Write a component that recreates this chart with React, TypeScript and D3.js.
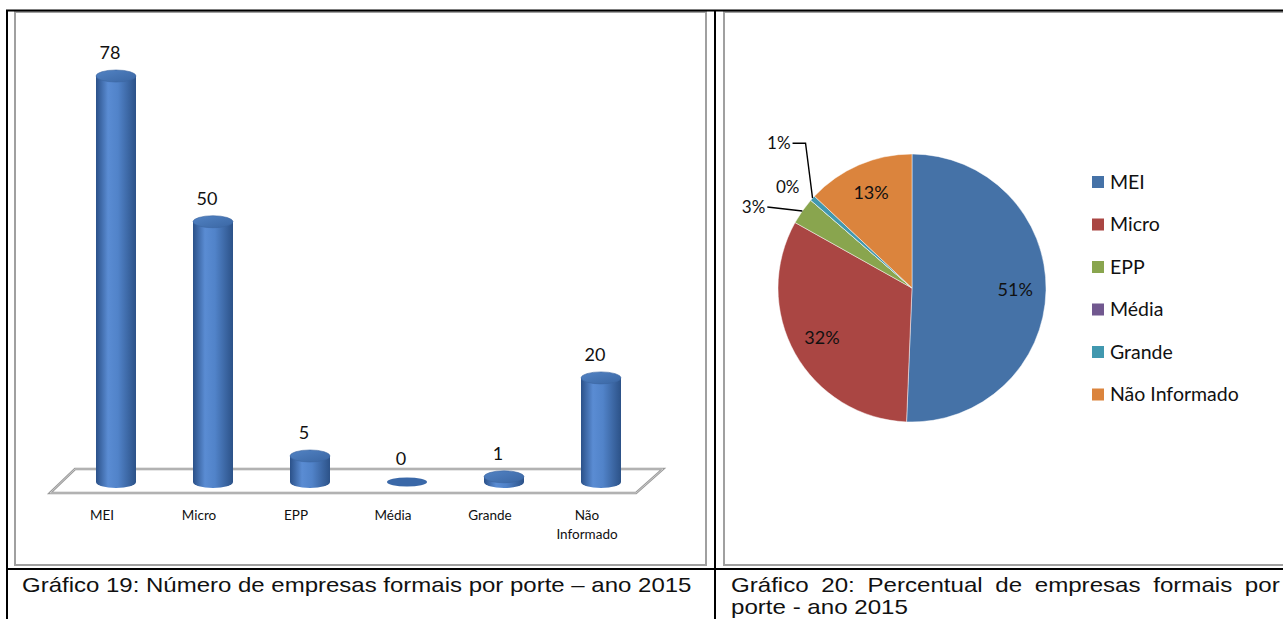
import { useLayoutEffect, useRef, useState } from "react";
import * as d3 from "d3";

// ── Data ──
const categories = ["MEI", "Micro", "EPP", "Média", "Grande", "Não Informado"];
const counts = [78, 50, 5, 0, 1, 20];
const pieLabels = ["51%", "32%", "3%", "0%", "1%", "13%"];
const pieColors = ["#4572A7", "#AA4643", "#89A54E", "#71588F", "#4198AF", "#DB843D"];

const captionLeft = "Gráfico 19: Número de empresas formais por porte – ano 2015";
const captionRight1 = "Gráfico 20: Percentual de empresas formais por";
const captionRight2 = "porte - ano 2015";

const W = 1283;
const H = 619;
const FONT = "Lato, 'Open Sans', sans-serif";
const CAPTION_FONT = "'Liberation Sans', Arial, sans-serif";

// placement of the small pie labels, relative to the slice's outer edge
const smallLabelPos: Record<number, { lx: number; ly: number; anchor: string; line?: [number, number][] }> = {
  2: { lx: -37, ly: -4, anchor: "end", line: [[-35, -4]] },
  3: { lx: -23, ly: -13, anchor: "middle" },
  4: { lx: -22, ly: -55, anchor: "end", line: [[-7, -55], [-20, -55]] },
};

function BarChart3D() {
  const x = d3.scalePoint<string>().domain(categories).range([116, 601]);
  const y = d3.scaleLinear().domain([0, 78]).range([482, 76]);
  const a = 20; // half width of cylinders
  const ry = 6;
  const base = y(0);

  return (
    <g>
      <defs>
        <linearGradient id="cyl" x1="0" x2="1" y1="0" y2="0">
          <stop offset="0" stopColor="#2b5189" />
          <stop offset="0.3" stopColor="#5a8cd3" />
          <stop offset="0.55" stopColor="#5183c9" />
          <stop offset="1" stopColor="#2c5288" />
        </linearGradient>
        <linearGradient id="cylTop" x1="0" x2="1" y1="0" y2="1">
          <stop offset="0" stopColor="#5283c4" />
          <stop offset="1" stopColor="#3a66a3" />
        </linearGradient>
      </defs>
      {/* floor */}
      <polygon
        points="50,493 75,469 663,469 636,493"
        fill="#fff"
        stroke="#9b9b9b"
        strokeWidth={2.5}
      />
      <polygon
        points="50,493 75,469 663,469 636,493"
        fill="none"
        stroke="#d6d6d6"
        strokeWidth={0.8}
      />
      {categories.map((c, i) => {
        const cx = x(c)!;
        const top = y(counts[i]);
        const flat = counts[i] === 0;
        const r = flat ? 4.5 : ry;
        return (
          <g key={c}>
            {!flat && (
              <path
                d={`M${cx - a},${top} L${cx - a},${base} A${a},${r} 0 0 0 ${cx + a},${base} L${cx + a},${top} Z`}
                fill="url(#cyl)"
              />
            )}
            <ellipse
              cx={cx}
              cy={top}
              rx={a}
              ry={r}
              fill={flat ? "#3a68a8" : "url(#cylTop)"}
              stroke={flat ? "none" : "#3a64a0"}
              strokeWidth={0.6}
            />
            <text
              x={cx - 6}
              y={top - 17}
              textAnchor="middle"
              fontFamily={FONT}
              fontSize={18}
              fill="#111"
            >
              {counts[i]}
            </text>
            {c.split(" ").map((w, j) => (
              <text
                key={w}
                x={cx - 14}
                y={520 + j * 19}
                textAnchor="middle"
                fontFamily={FONT}
                fontSize={13.5}
                fill="#111"
              >
                {w}
              </text>
            ))}
          </g>
        );
      })}
    </g>
  );
}

function PieChart() {
  const cx = 912;
  const cy = 288;
  const R = 134;
  const arcs = d3.pie<number>().sort(null).value((d) => d)(counts);
  const arc = d3.arc<d3.PieArcDatum<number>>().innerRadius(0).outerRadius(R);
  const labelArc = d3.arc<d3.PieArcDatum<number>>().innerRadius(R * 0.77).outerRadius(R * 0.77);

  const legendY = d3.scalePoint<string>().domain(categories).range([182, 394.5]);

  return (
    <g>
      <g transform={`translate(${cx},${cy})`}>
        {arcs.map((d, i) => (
          <path key={i} d={arc(d) || ""} fill={pieColors[i]} stroke="#ffffff" strokeOpacity={0.6} strokeWidth={0.8} />
        ))}
        {arcs.map((d, i) => {
          const small = smallLabelPos[i];
          if (!small) {
            const [lx, ly] = labelArc.centroid(d);
            return (
              <text key={i} x={lx} y={ly + 6} textAnchor="middle" fontFamily={FONT} fontSize={18} fill="#111">
                {pieLabels[i]}
              </text>
            );
          }
          const mid = (d.startAngle + d.endAngle) / 2;
          const ex = R * Math.sin(mid);
          const ey = -R * Math.cos(mid);
          const pts: [number, number][] = [[ex, ey], ...(small.line || []).map(([dx, dy]) => [ex + dx, ey + dy] as [number, number])];
          return (
            <g key={i}>
              {small.line && (
                <path d={d3.line()(pts) || ""} fill="none" stroke="#000" strokeWidth={1.4} />
              )}
              <text x={ex + small.lx} y={ey + small.ly + 6} textAnchor={small.anchor} fontFamily={FONT} fontSize={17} fill="#111">
                {pieLabels[i]}
              </text>
            </g>
          );
        })}
      </g>
      {categories.map((c, i) => (
        <g key={c} transform={`translate(1092,${legendY(c)})`}>
          <rect x={0} y={-6} width={12} height={12} fill={pieColors[i]} />
          <text x={18} y={6.5} fontFamily={FONT} fontSize={19.5} fill="#111">
            {c}
          </text>
        </g>
      ))}
    </g>
  );
}

export default function App() {
  const leftRef = useRef<SVGTextElement>(null);
  const r1Ref = useRef<SVGTextElement>(null);
  const r2Ref = useRef<SVGTextElement>(null);
  const [fit, setFit] = useState({ sLeft: 1, sRight: 1, ws: 0 });

  // the captions in the reference are set wider than Arial; stretch them
  // horizontally, then justify the first line of the right caption
  useLayoutEffect(() => {
    const l = leftRef.current?.getComputedTextLength() || 0;
    const r1 = r1Ref.current?.getComputedTextLength() || 0;
    const r2 = r2Ref.current?.getComputedTextLength() || 0;
    if (!l || !r1 || !r2) return;
    const sLeft = (692 - 22) / l;
    const sRight = (908 - 731) / r2;
    const gaps = captionRight1.split(" ").length - 1;
    const ws = Math.max(0, ((1280 - 731) / sRight - r1) / gaps);
    setFit({ sLeft, sRight, ws });
  }, []);

  return (
    <svg
      width={W}
      height={H}
      style={{ position: "absolute", left: 0, top: 0, display: "block", background: "#fff" }}
    >
      {/* table frame */}
      <rect x={15} y={12} width={691} height={553} fill="none" stroke="#a0a0a0" strokeWidth={2} />
      <rect x={724} y={12} width={600} height={553} fill="none" stroke="#a0a0a0" strokeWidth={2} />
      <line x1={6} x2={W} y1={10.5} y2={10.5} stroke="#000" strokeWidth={2} />
      <line x1={6} x2={W} y1={569} y2={569} stroke="#000" strokeWidth={2} />
      <line x1={7} x2={7} y1={10} y2={H} stroke="#000" strokeWidth={2} />
      <line x1={715} x2={715} y1={10} y2={H} stroke="#000" strokeWidth={2} />

      <BarChart3D />
      <PieChart />

      {/* captions */}
      <g transform={`translate(22,592) scale(${fit.sLeft},1)`}>
        <text ref={leftRef} fontFamily={CAPTION_FONT} fontSize={20} fill="#111">
          {captionLeft}
        </text>
      </g>
      <g transform={`translate(731,592) scale(${fit.sRight},1)`}>
        <text
          ref={r1Ref}
          fontFamily={CAPTION_FONT}
          fontSize={20}
          fill="#111"
          style={{ wordSpacing: `${fit.ws}px` }}
        >
          {captionRight1}
        </text>
      </g>
      <g transform={`translate(731,614) scale(${fit.sRight},1)`}>
        <text ref={r2Ref} fontFamily={CAPTION_FONT} fontSize={20} fill="#111">
          {captionRight2}
        </text>
      </g>
    </svg>
  );
}
